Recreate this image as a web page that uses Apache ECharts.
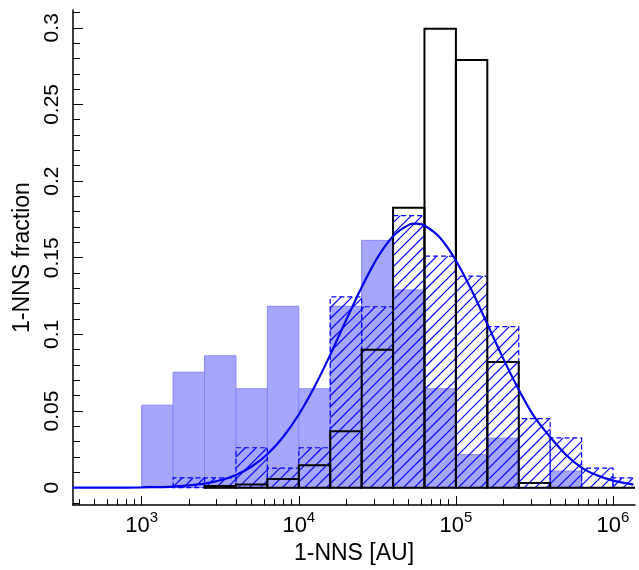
<!DOCTYPE html>
<html>
<head>
<meta charset="utf-8">
<script src="https://cdn.jsdelivr.net/npm/echarts@6/dist/echarts.min.js"></script>
<style>
html,body{margin:0;padding:0;background:#fff;}
#chart{width:639px;height:570px;}
</style>
</head>
<body>
<div id="chart"></div>
<script>
// ---- data (x in log10(AU)) ----
const binLeftExp = [3.0,3.2,3.4,3.6,3.8,4.0,4.2,4.4,4.6,4.8,5.0,5.2,5.4,5.6,5.8,6.0];
const binWidthExp = 0.2;
// filled blue histogram
const filledFrac = [0.0538,0.0753,0.0860,0.0645,0.1183,0.0645,0.1183,0.1613,0.1290,0.0645,0.0215,0.0323,0,0.0108,null,null];
// hatched dashed histogram
const hatchedFrac = [null,0.0063,0.0063,0.026,0.0127,0.026,0.1245,0.118,0.1774,0.151,0.138,0.105,0.045,0.0325,0.0127,0.0063];
// black outline histogram
const blackFrac = [null,null,0.001,0.002,0.0056,0.0146,0.0368,0.0899,0.1826,0.2994,0.279,0.082,0.003,0,0,0];
// fitted curve
const curveExp = [2.56,2.8,3.0,3.2,3.4,3.5,3.6,3.7,3.8,3.9,4.0,4.1,4.2,4.3,4.4,4.5,4.6,4.7,4.75,4.8,4.9,5.0,5.1,5.2,5.3,5.4,5.5,5.6,5.7,5.8,5.9,6.0,6.13];
const curveFrac = [0,0,0.0002,0.0007,0.0026,0.0048,0.0083,0.0138,0.0218,0.0330,0.0477,0.0658,0.0866,0.109,0.1308,0.1499,0.164,0.1714,0.1722,0.171,0.1629,0.1482,0.1287,0.1067,0.0845,0.0639,0.0461,0.0330,0.0215,0.0131,0.0080,0.0046,0.0020];
// ticks
const xMajorExp = [3,4,5,6];
const xMinorAU = [400,500,600,700,800,900,2e3,3e3,4e3,5e3,6e3,7e3,8e3,9e3,2e4,3e4,4e4,5e4,6e4,7e4,8e4,9e4,2e5,3e5,4e5,5e5,6e5,7e5,8e5,9e5];
const yMajor = [0,0.05,0.1,0.15,0.2,0.25,0.3];
const yMinor = [0.01,0.02,0.03,0.04,0.06,0.07,0.08,0.09,0.11,0.12,0.13,0.14,0.16,0.17,0.18,0.19,0.21,0.22,0.23,0.24,0.26,0.27,0.28,0.29,0.31,-0.01];
const xMin = 2.5627, xMax = 6.14;
const yMin = -0.0114, yMax = 0.3116;
const HATCH_STEP = 11;

function binData(vals){
  const out = [];
  binLeftExp.forEach((l,i)=>{ if(vals[i]!==null && vals[i]!==undefined) out.push([l, l+binWidthExp, vals[i]]); });
  return out;
}

function corners(api){
  const x0 = api.value(0), x1 = api.value(1), v = api.value(2);
  return [api.coord([x0, 0]), api.coord([x0, v]), api.coord([x1, v]), api.coord([x1, 0])];
}

function hatchItem(params, api){
  const pts = corners(api);
  const L = pts[0][0], R = pts[2][0], T = pts[1][1], B = pts[0][1];
  const children = [];
  const cStart = Math.ceil((L + T) / HATCH_STEP) * HATCH_STEP;
  for (let c = cStart; c <= R + B; c += HATCH_STEP) {
    const xa = Math.max(L, c - B), xb = Math.min(R, c - T);
    if (xb <= xa) continue;
    children.push({type:'line', shape:{x1:xa, y1:c - xa, x2:xb, y2:c - xb},
      style:{stroke:'#0000ff', lineWidth:1.15}, silent:true});
  }
  children.push({type:'polygon', shape:{points:pts},
    style:{fill:null, stroke:'#0000ff', lineWidth:1.2, lineDash:[5,3]}});
  return {type:'group', children:children};
}

const FONT = 'Liberation Sans, Arial, Helvetica, sans-serif';
const chart = echarts.init(document.getElementById('chart'), null, {renderer:'canvas'});
chart.setOption({
  animation:false,
  backgroundColor:'#fff',
  grid:{left:73, right:4, top:10, bottom:60, containLabel:false},
  xAxis:[{
    type:'value', min:xMin, max:xMax, position:'bottom',
    axisLine:{show:true, onZero:false, lineStyle:{color:'#000', width:1.5}},
    axisTick:{show:true, inside:true, length:9, customValues:xMajorExp, lineStyle:{color:'#000', width:1}},
    axisLabel:{show:true, customValues:xMajorExp, margin:5, color:'#000', fontFamily:FONT,
      formatter:function(v){return '{b|10}{s|'+Math.round(v)+'}';},
      rich:{b:{fontSize:22, fontFamily:FONT, color:'#000', lineHeight:26, padding:[6,0,0,0]},
            s:{fontSize:15, fontFamily:FONT, color:'#000', lineHeight:26, verticalAlign:'top', padding:[0,0,0,0]}}},
    splitLine:{show:false},
    name:'1-NNS [AU]', nameLocation:'middle', nameGap:35,
    nameTextStyle:{fontSize:23, fontFamily:FONT, color:'#000'}
  },{
    type:'value', min:xMin, max:xMax, position:'bottom',
    axisLine:{show:false, onZero:false},
    axisTick:{show:true, inside:true, length:6, customValues:xMinorAU.map(Math.log10), lineStyle:{color:'#000', width:1}},
    axisLabel:{show:false}, splitLine:{show:false}
  }],
  yAxis:[{
    type:'value', min:yMin, max:yMax, position:'left',
    axisLine:{show:true, onZero:false, lineStyle:{color:'#000', width:1.5}},
    axisTick:{show:true, inside:true, length:10, customValues:yMajor, lineStyle:{color:'#000', width:1}},
    axisLabel:{show:true, customValues:yMajor, rotate:90, margin:10, fontSize:21, fontFamily:FONT, color:'#000',
      formatter:function(v){return String(+v.toFixed(2));}},
    splitLine:{show:false},
    name:'1-NNS fraction', nameLocation:'middle', nameGap:30, nameRotate:90,
    nameTextStyle:{fontSize:23, fontFamily:FONT, color:'#000'}
  },{
    type:'value', min:yMin, max:yMax, position:'left',
    axisLine:{show:false, onZero:false},
    axisTick:{show:true, inside:true, length:7, customValues:yMinor, lineStyle:{color:'#000', width:1}},
    axisLabel:{show:false}, splitLine:{show:false}
  }],
  series:[
    {type:'custom', xAxisIndex:0, yAxisIndex:0, clip:true, z:2, data:binData(filledFrac),
     renderItem:function(p, api){return {type:'polygon', shape:{points:corners(api)}, style:{fill:'rgb(166,166,252)', stroke:'rgb(135,135,250)', lineWidth:1}};}},
    {type:'custom', xAxisIndex:0, yAxisIndex:0, clip:true, z:3, data:binData(hatchedFrac),
     renderItem:hatchItem},
    {type:'custom', xAxisIndex:0, yAxisIndex:0, clip:true, z:4, data:binData(blackFrac),
     renderItem:function(p, api){return {type:'polygon', shape:{points:corners(api)}, style:{fill:null, stroke:'#000', lineWidth:2}};}},
    {type:'line', xAxisIndex:0, yAxisIndex:0, z:5, showSymbol:false, smooth:0.3, clip:true,
     data:curveExp.map((x,i)=>[x, curveFrac[i]]),
     lineStyle:{color:'#0000ee', width:2.2}}
  ]
});
</script>
</body>
</html>
